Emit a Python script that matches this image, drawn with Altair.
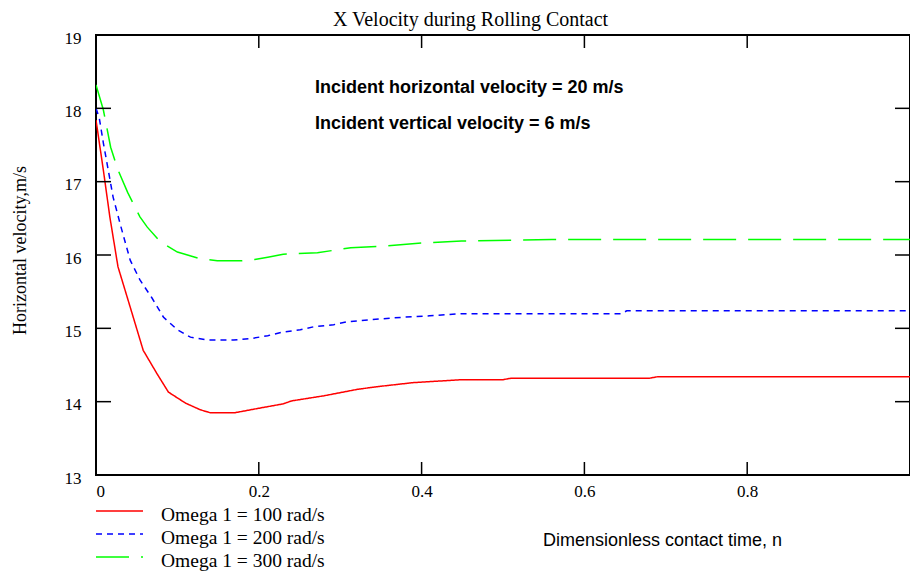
import altair as alt
import pandas as pd

# ---------------- data ----------------
red_n = [0.0, 0.009, 0.017, 0.027, 0.042, 0.058, 0.075, 0.089, 0.11, 0.128, 0.14, 0.171,
         0.2, 0.23, 0.24, 0.28, 0.322, 0.35, 0.39, 0.42, 0.45, 0.5, 0.51, 0.6, 0.68, 0.69,
         0.8, 0.9, 1.0]
red_v = [17.84, 17.16, 16.52, 15.84, 15.29, 14.70, 14.38, 14.13, 13.98, 13.89, 13.85, 13.85,
         13.91, 13.97, 14.01, 14.08, 14.17, 14.21, 14.26, 14.28, 14.30, 14.30, 14.32, 14.32,
         14.32, 14.34, 14.34, 14.34, 14.34]

blue_n = [0.0, 0.004, 0.009, 0.015, 0.021, 0.031, 0.042, 0.054, 0.069, 0.083, 0.1, 0.116,
          0.137, 0.169, 0.19, 0.211, 0.23, 0.251, 0.267, 0.292, 0.309, 0.34, 0.375, 0.41,
          0.449, 0.55, 0.646, 0.652, 0.8, 1.0]
blue_v = [18.0, 17.87, 17.53, 17.16, 16.79, 16.37, 15.93, 15.66, 15.41, 15.15, 14.98, 14.88,
          14.84, 14.84, 14.86, 14.90, 14.95, 14.98, 15.02, 15.05, 15.09, 15.12, 15.15, 15.17,
          15.20, 15.20, 15.20, 15.24, 15.24, 15.24]

green_n = [0.0, 0.009, 0.018, 0.027, 0.039, 0.054, 0.063, 0.079, 0.1, 0.128, 0.149, 0.177,
           0.195, 0.211, 0.23, 0.272, 0.313, 0.354, 0.396, 0.449, 0.56, 0.7, 0.85, 1.0]
green_v = [18.32, 17.98, 17.47, 17.16, 16.85, 16.52, 16.38, 16.18, 16.04, 15.95, 15.92, 15.92,
           15.94, 15.97, 16.01, 16.03, 16.10, 16.12, 16.16, 16.19, 16.21, 16.21, 16.21, 16.21]

series_labels = ["Omega 1 = 100 rad/s", "Omega 1 = 200 rad/s", "Omega 1 = 300 rad/s"]
series_colors = ["#ff0000", "#0000ff", "#00ff00"]
series_dashes = [[1, 0], [6, 5], [33, 12]]

x_ticks = [0, 0.2, 0.4, 0.6, 0.8, 1.0]
x_labels = [0, 0.2, 0.4, 0.6, 0.8]
y_ticks = [13, 14, 15, 16, 17, 18, 19]

title_text = "X Velocity during Rolling Contact"
x_title = "Dimensionless contact time, n"
y_title = "Horizontal velocity,m/s"
notes = ["Incident horizontal velocity = 20 m/s", "Incident vertical velocity = 6 m/s"]

# ---------------- tables ----------------
rows = []
for lab, ns, vs in zip(series_labels, [red_n, blue_n, green_n], [red_v, blue_v, green_v]):
    for i, (n, v) in enumerate(zip(ns, vs)):
        rows.append({"series": lab, "n": n, "v": v, "order": i})
df = pd.DataFrame(rows)
xt = pd.DataFrame({"n": x_ticks})
yt = pd.DataFrame({"v": y_ticks})

W, H = 814, 440
SERIF = "Liberation Serif"
SANS = "Liberation Sans"

xscale = alt.Scale(domain=[0, 1], nice=False, zero=False)
yscale = alt.Scale(domain=[13, 19], nice=False, zero=False)

x_axis = alt.Axis(values=x_labels, format="~g", title=x_title, titleX=566, titleY=70,
                  titleAlign="center", titleBaseline="alphabetic", titleFont=SANS,
                  titleFontSize=18, titleFontWeight="normal", labelPadding=8,
                  grid=False, domain=False, ticks=False, labelFont=SERIF, labelFontSize=17,
                  labelColor="black", titleColor="black")
y_axis = alt.Axis(values=y_ticks, format="d", title=y_title, titleX=-76, titleY=215,
                  titleAngle=-90, titleAlign="center", titleBaseline="middle",
                  titleFont=SERIF, titleFontSize=18, titleFontWeight="normal",
                  labelPadding=15, labelOffset=3,
                  grid=False, domain=False, ticks=False, labelFont=SERIF, labelFontSize=17,
                  labelColor="black", titleColor="black")

X = alt.X("n:Q", scale=xscale, axis=x_axis)
Y = alt.Y("v:Q", scale=yscale, axis=y_axis)

lines = alt.Chart(df).mark_line(strokeWidth=1.5, clip=True).encode(
    x=X,
    y=Y,
    color=alt.Color("series:N", sort=series_labels,
                    scale=alt.Scale(domain=series_labels, range=series_colors),
                    legend=None),
    strokeDash=alt.StrokeDash("series:N", sort=series_labels,
                              scale=alt.Scale(domain=series_labels, range=series_dashes),
                              legend=None),
    order="order:Q",
)

tick_style = dict(color="black", strokeWidth=1.5)
bottom_ticks = alt.Chart(xt).mark_rule(**tick_style).encode(x=X, y=alt.value(H), y2=alt.value(H - 13))
top_ticks = alt.Chart(xt).mark_rule(**tick_style).encode(x=X, y=alt.value(0), y2=alt.value(13))
left_ticks = alt.Chart(yt).mark_rule(**tick_style).encode(y=Y, x=alt.value(0), x2=alt.value(15))
right_ticks = alt.Chart(yt).mark_rule(**tick_style).encode(y=Y, x=alt.value(W), x2=alt.value(W - 15))


def text_layer(txt, x, y, **kw):
    return alt.Chart(pd.DataFrame({"t": [txt]})).mark_text(color="black", **kw).encode(
        text="t:N", x=alt.value(x), y=alt.value(y))


note1 = text_layer(notes[0], 219, 53, font=SANS, fontSize=18, fontWeight="bold",
                   align="left", baseline="middle")
note2 = text_layer(notes[1], 219, 89, font=SANS, fontSize=18, fontWeight="bold",
                   align="left", baseline="middle")
title = text_layer(title_text, 374.5, -9, font=SERIF, fontSize=20, align="center",
                   baseline="alphabetic")

# manual legend below the plot
legend_layers = []
for i, (lab, col, dash) in enumerate(zip(series_labels, series_colors, series_dashes)):
    ly = H + 36 + 23 * i
    sym = alt.Chart(pd.DataFrame({"s": [lab]})).mark_rule(
        color=col, strokeWidth=1.5, strokeDash=dash
    ).encode(x=alt.value(0), x2=alt.value(47), y=alt.value(ly))
    legend_layers.append(sym)
    legend_layers.append(text_layer(lab, 65, ly + 4, font=SERIF, fontSize=19.5,
                                    align="left", baseline="middle"))

chart = alt.layer(
    lines, bottom_ticks, top_ticks, left_ticks, right_ticks, note1, note2, title, *legend_layers
).properties(
    width=W,
    height=H,
    background="white",
    autosize=alt.AutoSizeParams(type="none"),
    padding={"left": 96, "top": 35, "right": 0, "bottom": 96},
).configure_view(
    stroke="black", strokeWidth=2
)

chart.save("out.html", embed_options={"renderer": "svg", "actions": False})
